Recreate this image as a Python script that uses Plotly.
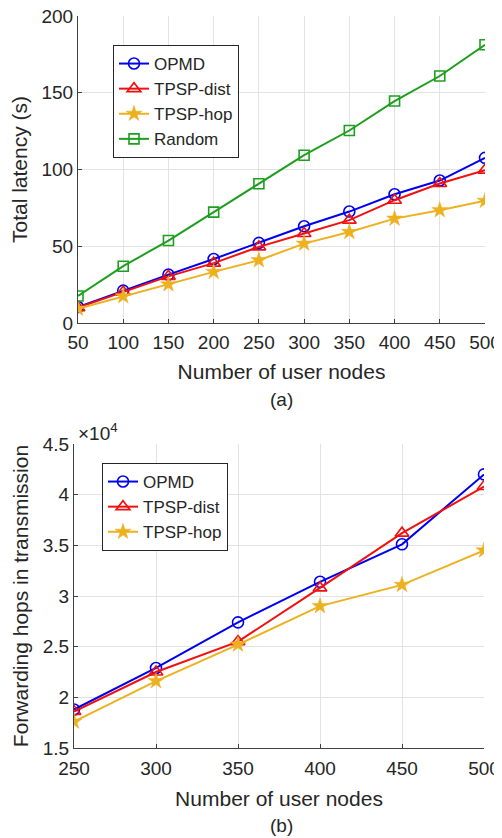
import plotly.graph_objects as go

# ---- data (a) ----
nodes_a = [50, 100, 150, 200, 250, 300, 350, 400, 450, 500]
opmd_a = [10.4, 21.1, 31.5, 41.7, 52.2, 63.0, 72.6, 83.9, 92.8, 107.6]
dist_a = [10.0, 20.2, 30.4, 39.0, 49.6, 58.3, 67.0, 80.0, 90.9, 99.6]
hop_a = [9.3, 17.4, 25.2, 33.3, 40.9, 51.7, 59.3, 68.0, 73.5, 79.6]
rand_a = [17.6, 37.0, 53.7, 72.2, 90.7, 109.3, 125.4, 144.6, 160.9, 181.3]

# ---- data (b) (units of 1e4) ----
nodes_b = [250, 300, 350, 400, 450, 500]
opmd_b = [1.88, 2.29, 2.74, 3.14, 3.51, 4.20]
dist_b = [1.86, 2.25, 2.55, 3.08, 3.62, 4.08]
hop_b = [1.76, 2.16, 2.52, 2.90, 3.11, 3.45]

FONT = "Liberation Sans, Arial, sans-serif"
TXT = "#262626"
BLUE = "#0000F0"
RED = "#F01010"
YEL = "#EDB120"
GRN = "#1E9E1E"

# page body has an 8px default margin
OFF = 8
W, H = 502 - 2 * OFF, 838 - OFF


def px(x):
    return (x - OFF) / W


def py(y):
    return 1 - (y - OFF) / H


fig = go.Figure()


def add(x, y, name, color, symbol, xa, ya, leg, size=10, lw=1.6):
    fig.add_trace(go.Scatter(
        x=x, y=y, name=name, mode="lines+markers",
        line=dict(color=color, width=2),
        marker=dict(symbol=symbol, size=size, color=color,
                    line=dict(color=color, width=lw)),
        xaxis=xa, yaxis=ya, legend=leg))


add(nodes_a, opmd_a, "OPMD", BLUE, "circle-open", "x", "y", "legend", size=11)
add(nodes_a, dist_a, "TPSP-dist", RED, "triangle-up-open", "x", "y", "legend", size=12)
add(nodes_a, hop_a, "TPSP-hop", YEL, "star", "x", "y", "legend", size=12, lw=0.5)
add(nodes_a, rand_a, "Random", GRN, "square-open", "x", "y", "legend", size=10)

add(nodes_b, opmd_b, "OPMD", BLUE, "circle-open", "x2", "y2", "legend2", size=11)
add(nodes_b, dist_b, "TPSP-dist", RED, "triangle-up-open", "x2", "y2", "legend2", size=12)
add(nodes_b, hop_b, "TPSP-hop", YEL, "star", "x2", "y2", "legend2", size=12, lw=0.5)

ax_common = dict(showgrid=True, gridcolor="#E3E3E3", gridwidth=1,
                 showline=True, linecolor="#404040", linewidth=1,
                 ticks="inside", ticklen=4, tickcolor="#404040",
                 tickfont=dict(family=FONT, size=19, color=TXT),
                 ticklabeloverflow="allow",
                 zeroline=False, mirror=False, automargin=False)

leg_common = dict(bgcolor="white", bordercolor="#262626", borderwidth=1,
                  font=dict(family=FONT, size=17, color=TXT),
                  xanchor="left", yanchor="top", tracegroupgap=0,
                  itemwidth=30)

fig.update_layout(
    width=W, height=H,
    margin=dict(l=0, r=0, t=0, b=0),
    paper_bgcolor="white", plot_bgcolor="white",
    font=dict(family=FONT, color=TXT),
    xaxis=dict(domain=[px(78), px(485)], range=[50, 500], dtick=50, tick0=50,
               anchor="y", ticklabelstandoff=2,
               title=dict(text="Number of user nodes", standoff=12,
                          font=dict(family=FONT, size=21, color=TXT)),
               **ax_common),
    yaxis=dict(domain=[py(323), py(16)], range=[0, 200], dtick=50,
               anchor="x",
               title=dict(text="Total latency (s)", standoff=8,
                          font=dict(family=FONT, size=21, color=TXT)),
               **ax_common),
    xaxis2=dict(domain=[px(74), px(484)], range=[250, 500], dtick=50, tick0=250,
                anchor="y2", ticklabelstandoff=3,
                title=dict(text="Number of user nodes", standoff=13,
                           font=dict(family=FONT, size=21, color=TXT)),
                **ax_common),
    yaxis2=dict(domain=[py(748), py(444)], range=[1.5, 4.5], dtick=0.5,
                tickformat=".1~f", anchor="x2",
                title=dict(text="Forwarding hops in transmission", standoff=8,
                           font=dict(family=FONT, size=21, color=TXT)),
                **ax_common),
    legend=dict(x=px(113), y=py(45), **leg_common),
    legend2=dict(x=px(102), y=py(463), **leg_common),
    annotations=[
        dict(text="(a)", x=px(281), y=py(400), xref="paper", yref="paper",
             showarrow=False, font=dict(family=FONT, size=19, color=TXT)),
        dict(text="(b)", x=px(281), y=py(825), xref="paper", yref="paper",
             yanchor="middle",
             showarrow=False, font=dict(family=FONT, size=19, color=TXT)),
        dict(text="×10<sup>4</sup>", x=px(76), y=py(432), xref="paper", yref="paper",
             xanchor="left", yanchor="middle", showarrow=False,
             font=dict(family=FONT, size=19, color=TXT)),
    ],
)

fig.write_html("out.html")
